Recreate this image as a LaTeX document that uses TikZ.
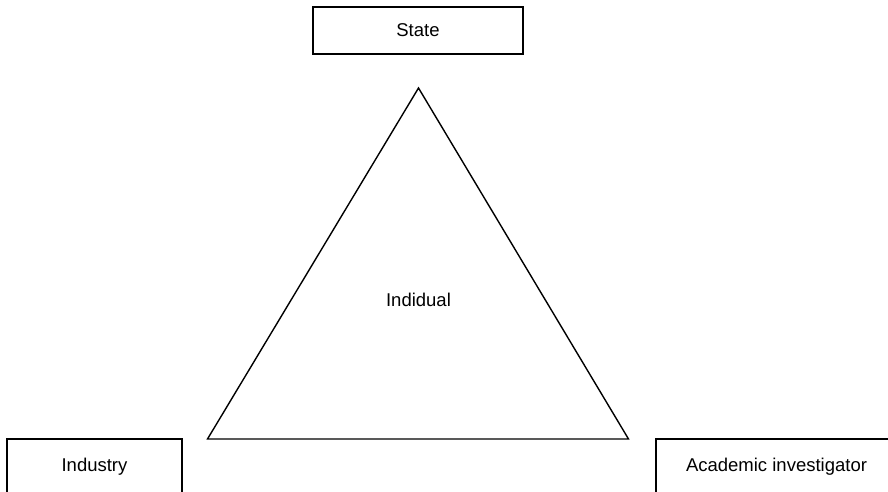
\documentclass[tikz,border=0pt]{standalone}
\usepackage{fontspec}
\setmainfont{Liberation Sans}
\begin{document}
\begin{tikzpicture}[x=1pt,y=-1pt,
  box/.style={draw=black,line width=1.4pt,fill=white,inner sep=0pt,font=\fontsize{18.5}{22}\selectfont},
  lbl/.style={inner sep=0pt,font=\fontsize{18.5}{22}\selectfont}]
\useasboundingbox (0,0) rectangle (888,492);
\clip (0,0) rectangle (888,492);
\fill[white] (0,0) rectangle (888,492);
\node[box,minimum width=210pt,minimum height=47pt] (state) at (418,30.5) {State};
\node[box,minimum width=175pt,minimum height=56pt] (industry) at (94.5,467) {\raisebox{4pt}{Industry}};
\node[box,minimum width=241pt,minimum height=56pt] (academic) at (776.5,467) {\raisebox{4pt}{Academic investigator}};
\coordinate (apex) at (418.5,88);
\coordinate (bl) at (207.5,439);
\coordinate (br) at (628.5,439);
\draw[line width=1.4pt,line join=miter] (apex) -- (br) -- (bl) -- cycle;
\node[lbl] (indiv) at (418.5,300) {Indidual};
\end{tikzpicture}
\end{document}
